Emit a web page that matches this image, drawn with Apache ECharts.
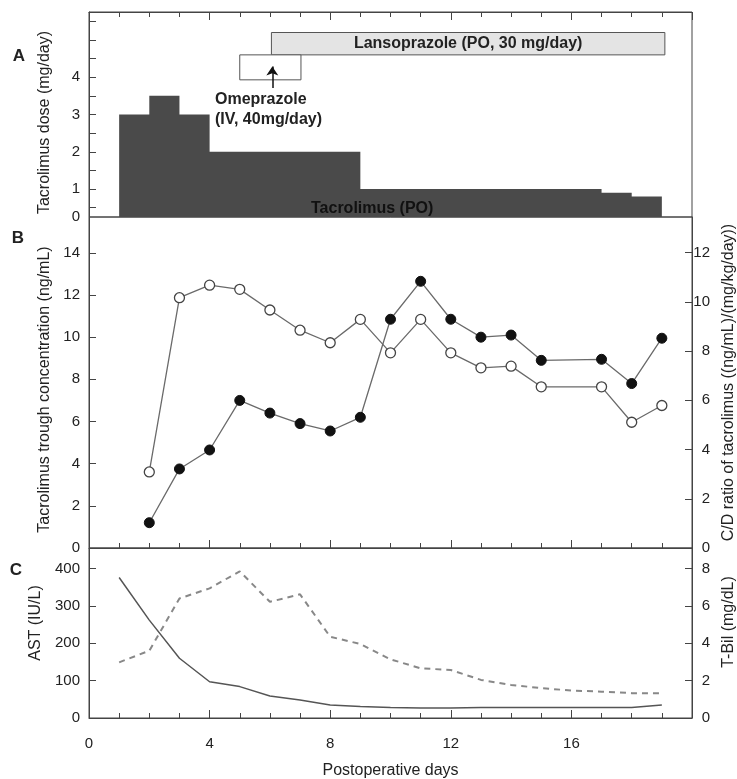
<!DOCTYPE html>
<html>
<head>
<meta charset="utf-8">
<script src="https://cdn.jsdelivr.net/npm/echarts@6.0.0/dist/echarts.min.js"></script>
<style>
html,body{margin:0;padding:0;background:#fff;}
#chart{width:737px;height:779px;}
</style>
</head>
<body>
<div id="chart"></div>
<script>
// A: tacrolimus dose (mg/day), each value holds from its day to the next one
var doseDays = [1, 2, 3, 4, 9, 17, 18, 19];
var doseValues = [3, 3.5, 3, 2, 1, 0.9, 0.8, 0.8];
var doseTicks = [0.5, 1, 1.5, 2, 2.5, 3, 3.5, 4, 4.5, 5, 5.5];
var doseLabels = [0, 1, 2, 3, 4];

// A: proton pump inhibitor periods
var drugLabels = ['Lansoprazole (PO, 30 mg/day)', ''];
var drugStart = [6.05, 5];
var drugEnd = [19.1, 7.03];
var drugLow = [4.6, 3.93];
var drugHigh = [5.2, 4.6];

// B: trough concentration (ng/mL) and C/D ratio
var levelDays = [2, 3, 4, 5, 6, 7, 8, 9, 10, 11, 12, 13, 14, 15, 17, 18, 19];
var troughConc = [1.2, 3.75, 4.65, 7.0, 6.4, 5.9, 5.55, 6.2, 10.85, 12.65, 10.85, 10.0, 10.1, 8.9, 8.95, 7.8, 9.95];
var cdRatio = [3.09, 10.17, 10.68, 10.51, 9.67, 8.85, 8.34, 9.29, 7.93, 9.29, 7.93, 7.32, 7.39, 6.55, 6.55, 5.11, 5.79];

// C: AST (IU/L) and T-Bil (mg/dL)
var labDays = [1, 2, 3, 4, 5, 6, 7, 8, 9, 10, 11, 12, 13, 14, 15, 16, 17, 18, 19];
var ast = [376, 262, 160, 97, 84, 59, 48, 35, 31, 28, 27, 27, 28, 28, 28, 28, 28, 28, 35];
var tbil = [2.98, 3.6, 6.4, 6.94, 7.85, 6.22, 6.62, 4.35, 3.96, 3.14, 2.66, 2.57, 2.04, 1.77, 1.6, 1.47, 1.41, 1.33, 1.33];

var FONT = '"Liberation Sans", Arial, sans-serif';
var TXT = '#222';
var AX = '#444';
var doseMin = 0.25;

function zip(xs, ys){
    return xs.map(function(x, i){ return [x, ys[i]]; });
}

function gridAt(top, height){
    return {left:89, right:45, top:top, height:height, show:true,
        borderColor:AX, borderWidth:1, containLabel:false, outerBoundsMode:'none'};
}

function xAxisFor(gi, pos, withLabels){
    return {
        type:'value', gridIndex:gi, position:pos, min:0, max:20, interval:4,
        axisLine:{show:true, lineStyle:{color:AX}},
        axisTick:{show:true, inside:true, length:8, lineStyle:{color:AX}},
        minorTick:{show:true, splitNumber:4, length:5, lineStyle:{color:AX}},
        splitLine:{show:false},
        axisLabel:{show:withLabels, color:TXT, fontSize:15, fontFamily:FONT, margin:18,
            formatter:function(v){ return v === 20 ? '' : v; }},
        name: withLabels ? 'Postoperative days' : '',
        nameLocation:'middle', nameGap:45,
        nameTextStyle:{color:TXT, fontSize:16, fontFamily:FONT}
    };
}

function yAxisFor(gi, pos, name, min, max, interval, pad){
    var right = pos === 'right';
    return {
        type:'value', gridIndex:gi, position:pos, min:min, max:max, interval:interval,
        axisLine:{show:true, lineStyle:{color:AX}},
        axisTick:{show:true, inside:true, length:7, lineStyle:{color:AX}},
        splitLine:{show:false},
        axisLabel:{color:TXT, fontSize:15, fontFamily:FONT, showMaxLabel:false,
            margin: right ? 18 : 9, align:'right'},
        name:name, nameLocation:'middle', nameRotate:90, nameGap: right ? 27 : 36,
        nameTextStyle:{color:TXT, fontSize:16, fontFamily:FONT, padding:pad || 0}
    };
}

var chart = echarts.init(document.getElementById('chart'));

var yDose = yAxisFor(0, 'left', 'Tacrolimus dose (mg/day)', doseMin, 5.75, null, [0, 16, 0, 0]);
delete yDose.interval;
yDose.axisTick.customValues = doseTicks;
yDose.axisLabel.customValues = doseLabels.map(function(v){ return Math.max(v, doseMin); });
yDose.axisLabel.showMaxLabel = true;
yDose.axisLabel.formatter = function(v){ return v <= doseMin ? '0' : v; };

chart.setOption({
    animation:false,
    grid:[gridAt(12, 205), gridAt(217, 331), gridAt(548, 170)],
    xAxis:[
        xAxisFor(0, 'top', false),
        xAxisFor(1, 'bottom', false),
        xAxisFor(2, 'bottom', true)
    ],
    yAxis:[
        yDose,
        yAxisFor(1, 'left', 'Tacrolimus trough concentration (ng/mL)', 0, 15.7, 2, [0, 14, 0, 0]),
        yAxisFor(1, 'right', 'C/D ratio of tacrolimus ((ng/mL)/(mg/kg/day))', 0, 13.45, 2),
        yAxisFor(2, 'left', 'AST (IU/L)', 0, 455, 100, [0, 0, 0, 20]),
        yAxisFor(2, 'right', 'T-Bil (mg/dL)', 0, 9.1, 2, [0, 0, 0, 22])
    ],
    series:[
        {
            name:'Tacrolimus (PO)', type:'line', xAxisIndex:0, yAxisIndex:0,
            step:'end', symbol:'none', data:zip(doseDays, doseValues),
            lineStyle:{width:0}, areaStyle:{color:'#4a4a4a', opacity:1, origin:'start'}
        },
        {
            name:'PPI', type:'custom', xAxisIndex:0, yAxisIndex:0,
            data:drugStart.map(function(s, i){ return [s, drugEnd[i], drugLow[i], drugHigh[i]]; }),
            renderItem:function(params, api){
                var p0 = api.coord([api.value(0), api.value(3)]);
                var p1 = api.coord([api.value(1), api.value(2)]);
                var i = params.dataIndex;
                return {
                    type:'rect',
                    shape:{x:p0[0], y:p0[1], width:p1[0]-p0[0], height:p1[1]-p0[1]},
                    style:{fill: i === 0 ? '#e4e4e4' : '#fff', stroke:'#555', lineWidth:1},
                    textContent:{style:{text:drugLabels[i], font:'bold 16px ' + FONT, fill:TXT}},
                    textConfig:{position:'inside'}
                };
            }
        },
        {
            type:'lines', coordinateSystem:'cartesian2d', xAxisIndex:0, yAxisIndex:0,
            symbol:['none', 'arrow'], symbolSize:9, silent:true,
            lineStyle:{color:'#111', width:1.5, opacity:1},
            data:[{coords:[[6.08, 3.71], [6.08, 4.29]]}]
        },
        {
            name:'Trough', type:'line', xAxisIndex:1, yAxisIndex:1,
            data:zip(levelDays, troughConc), symbol:'circle', symbolSize:10,
            lineStyle:{color:'#6a6a6a', width:1.3},
            itemStyle:{color:'#111', borderColor:'#111', borderWidth:1}
        },
        {
            name:'C/D ratio', type:'line', xAxisIndex:1, yAxisIndex:2,
            data:zip(levelDays, cdRatio), symbol:'circle', symbolSize:10,
            lineStyle:{color:'#6a6a6a', width:1.3},
            itemStyle:{color:'#fff', borderColor:'#444', borderWidth:1.3}
        },
        {
            name:'AST', type:'line', xAxisIndex:2, yAxisIndex:3,
            data:zip(labDays, ast), symbol:'none',
            lineStyle:{color:'#555', width:1.5}
        },
        {
            name:'T-Bil', type:'line', xAxisIndex:2, yAxisIndex:4,
            data:zip(labDays, tbil), symbol:'none',
            lineStyle:{color:'#888', width:2, type:[6, 5]}
        }
    ],
    graphic:[
        {type:'text', x:19, y:56, style:{text:'A', font:'bold 17px ' + FONT, fill:TXT, align:'center', verticalAlign:'middle'}},
        {type:'text', x:18, y:238, style:{text:'B', font:'bold 17px ' + FONT, fill:TXT, align:'center', verticalAlign:'middle'}},
        {type:'text', x:16, y:570, style:{text:'C', font:'bold 17px ' + FONT, fill:TXT, align:'center', verticalAlign:'middle'}},
        {type:'text', x:215, y:90, z:10, style:{text:'Omeprazole\n(IV, 40mg/day)', font:'bold 16px ' + FONT, fill:TXT, lineHeight:20, verticalAlign:'top'}},
        {type:'text', x:311, y:209, z:10, style:{text:'Tacrolimus (PO)', font:'bold 16px ' + FONT, fill:'#111', verticalAlign:'middle'}}
    ]
});
</script>
</body>
</html>
